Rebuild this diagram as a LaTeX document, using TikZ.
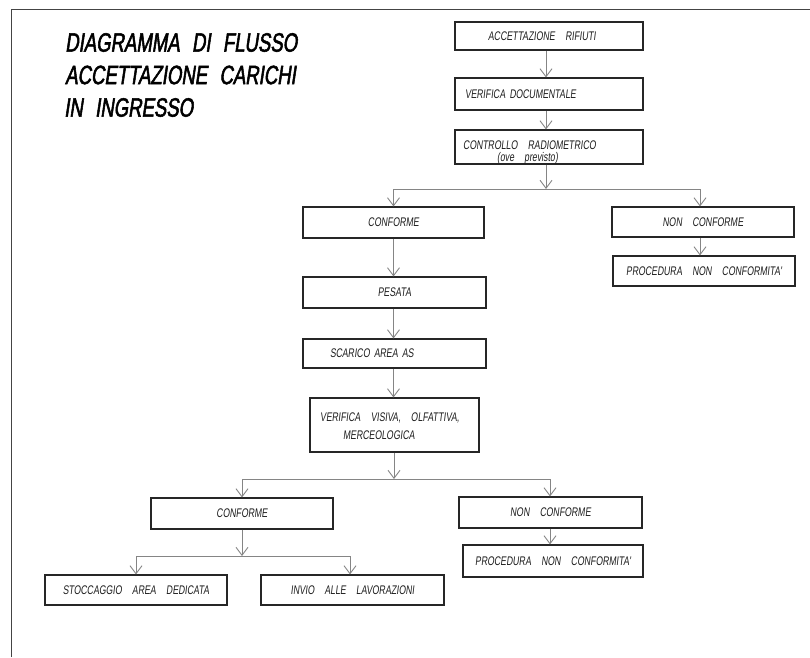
\documentclass[tikz,border=0pt]{standalone}
\usepackage{fontspec}
\setmainfont{Liberation Sans}
\newfontfamily\cadfont[FakeStretch=0.70,FakeSlant=0.12,WordSpace=4.2]{Liberation Sans}
\newfontfamily\titlefont[FakeStretch=0.70,FakeSlant=0.15,FakeBold=2,WordSpace=2.4]{Liberation Sans}
\usetikzlibrary{arrows.meta,calc}
\definecolor{boxc}{HTML}{262626}
\definecolor{linec}{HTML}{858585}
\definecolor{txtc}{HTML}{1E1E1E}
\definecolor{framec}{HTML}{444444}
\begin{document}
\begin{tikzpicture}[x=1pt,y=-1pt,
  box/.style={draw=boxc, line width=1.1pt, inner sep=0pt, text=txtc,
    font=\cadfont\fontsize{12.5}{14}\selectfont},
  txt/.style={inner sep=0pt, text=txtc, font=\cadfont\fontsize{12.5}{14}\selectfont},
  ttl/.style={inner sep=0pt, anchor=west, text=black, font=\titlefont\fontsize{26.5}{30}\selectfont},
  conn/.style={draw=linec, line width=0.9pt},
  arr/.style={conn, -{Straight Barb[length=8pt,width=12pt]}},
]
\useasboundingbox (0,0) rectangle (810,657);
% frame
\draw[framec, line width=1.6pt] (11.5,657) -- (11.5,9.5) -- (810,9.5);

% title
\node[ttl] (t1) at (65,42.5) {DIAGRAMMA DI FLUSSO};
\node[ttl] (t2) at (65,75) {ACCETTAZIONE CARICHI};
\node[ttl] (t3) at (64,107.5) {IN INGRESSO};

% column coordinates
\coordinate (c1) at (546,0);
\coordinate (c2) at (393.5,0);
\coordinate (c3) at (700,0);
\coordinate (c4) at (242,0);
\coordinate (c5) at (550,0);
\coordinate (c6) at (136,0);
\coordinate (c7) at (350,0);

% boxes
\node[box, minimum width=188pt, minimum height=28pt] (b1) at (549,36) {ACCETTAZIONE RIFIUTI\hspace*{14pt}};
\node[box, minimum width=188pt, minimum height=32pt, inner xsep=10pt, text width=168pt, align=left] (b2) at (549,94) {VERIFICA DOCUMENTALE};
\node[box, minimum width=188pt, minimum height=34pt] (b3) at (549,147) {};
\node[txt, anchor=west] (b3a) at (463,145.5) {CONTROLLO RADIOMETRICO};
\node[txt, anchor=west] (b3b) at (497,158.5) {(ove previsto)};

\node[box, minimum width=181pt, minimum height=31pt] (b4) at (393.5,222.5) {CONFORME};
\node[box, minimum width=182pt, minimum height=30pt] (b5) at (703,222) {NON CONFORME};
\node[box, minimum width=182pt, minimum height=30pt] (b6) at (704,271) {PROCEDURA NON CONFORMITA'};

\node[box, minimum width=183pt, minimum height=31pt] (b7) at (394.5,292.5) {PESATA};
\node[box, minimum width=183pt, minimum height=29pt, inner xsep=27pt, text width=129pt, align=left] (b8) at (394.5,353.5) {SCARICO AREA AS};
\node[box, minimum width=169pt, minimum height=54pt] (b9) at (394.5,425) {};
\node[txt, anchor=west] (b9a) at (320,418) {VERIFICA VISIVA, OLFATTIVA,};
\node[txt, anchor=west] (b9b) at (343,435) {MERCEOLOGICA};

\node[box, minimum width=182pt, minimum height=31pt] (b10) at (242,513.5) {CONFORME};
\node[box, minimum width=183pt, minimum height=31pt] (b11) at (550.5,512.5) {NON CONFORME};
\node[box, minimum width=180pt, minimum height=32pt] (b12) at (553,561) {PROCEDURA NON CONFORMITA'};

\node[box, minimum width=182pt, minimum height=30pt] (b13) at (136,590) {STOCCAGGIO AREA DEDICATA};
\node[box, minimum width=183pt, minimum height=30pt] (b14) at (352.5,590) {INVIO ALLE LAVORAZIONI};

% junctions
\coordinate (j1) at (546,189);
\coordinate (j1l) at (393.5,189);
\coordinate (j1r) at (700,189);
\coordinate (j2) at (394,479);
\coordinate (j2l) at (242,479);
\coordinate (j2r) at (550,479);
\coordinate (j3) at (242,556);
\coordinate (j3l) at (136,556);
\coordinate (j3r) at (350,556);

% connectors
\draw[arr] (b1.south -| c1) -- (b2.north -| c1);
\draw[arr] (b2.south -| c1) -- (b3.north -| c1);
\draw[arr] (b3.south -| c1) -- (j1);
\draw[conn] (j1l) -- (j1r);
\draw[arr] (j1l) -- (b4.north -| c2);
\draw[arr] (j1r) -- (b5.north -| c3);
\draw[arr] (b5.south -| c3) -- (b6.north -| c3);
\draw[arr] (b4.south -| c2) -- (b7.north -| c2);
\draw[arr] (b7.south -| c2) -- (b8.north -| c2);
\draw[arr] (b8.south -| c2) -- (b9.north -| c2);
\draw[arr] (b9.south -| j2) -- (j2);
\draw[conn] (j2l) -- (j2r);
\draw[arr] (j2l) -- (b10.north -| c4);
\draw[arr] (j2r) -- (b11.north -| c5);
\draw[arr] (b11.south -| c5) -- (b12.north -| c5);
\draw[arr] (b10.south -| c4) -- (j3);
\draw[conn] (j3l) -- (j3r);
\draw[arr] (j3l) -- (b13.north -| c6);
\draw[arr] (j3r) -- (b14.north -| c7);
\end{tikzpicture}
\end{document}
